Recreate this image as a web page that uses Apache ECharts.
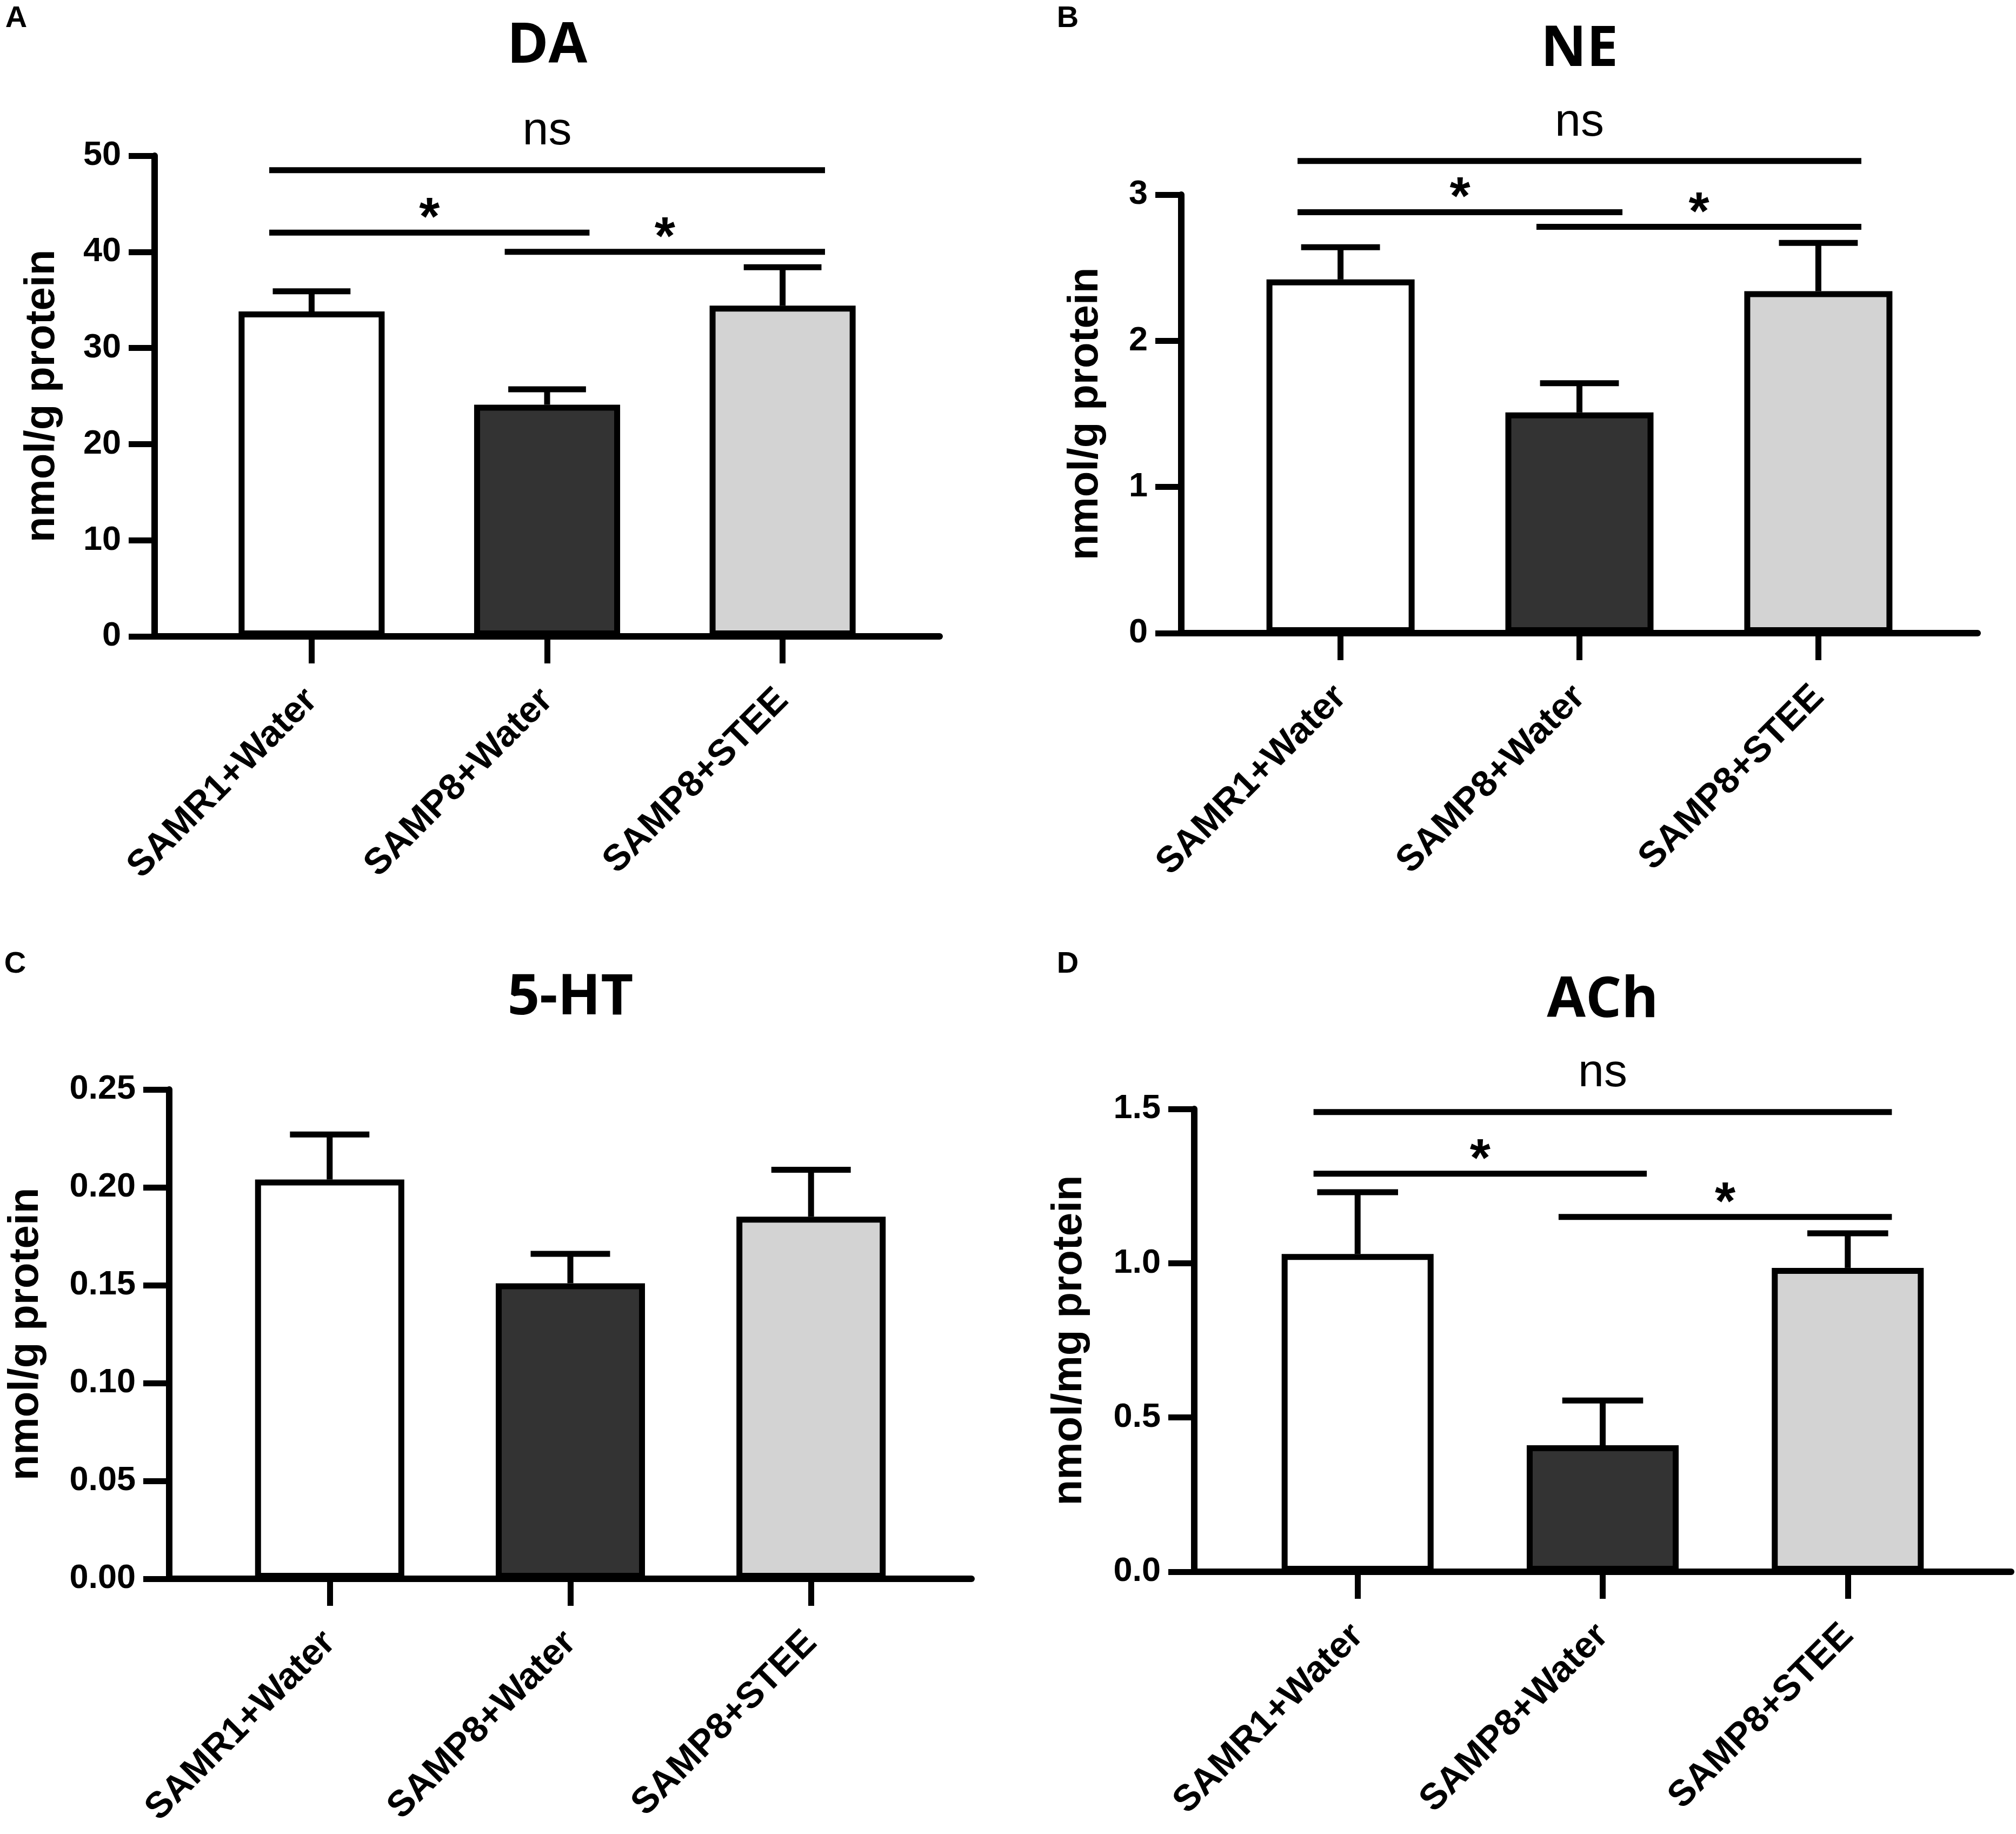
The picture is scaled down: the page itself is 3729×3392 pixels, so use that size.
<!DOCTYPE html>
<html><head><meta charset="utf-8">
<script src="https://cdn.jsdelivr.net/npm/echarts@6/dist/echarts.min.js"></script>
<style>html,body{margin:0;padding:0;background:#fff}#c{width:3729px;height:3392px}</style>
</head><body><div id="c"></div>
<script>
// ---- data ----
const categories = ['SAMR1+Water', 'SAMP8+Water', 'SAMP8+STEE'];
const barColors = ['#ffffff', '#333333', '#d3d3d3'];

const daMean = [33.8, 24.1, 34.4];
const daSem = [2.1, 1.6, 4.0];
const neMean = [2.42, 1.51, 2.34];
const neSem = [0.22, 0.20, 0.33];
const htMean = [0.204, 0.151, 0.185];
const htSem = [0.023, 0.015, 0.024];
const achMean = [1.03, 0.41, 0.985];
const achSem = [0.20, 0.145, 0.112];

// significance brackets: [fromIndex, toIndex, yValue, label]
const daSig = [[0, 2, 48.5, 'ns'], [0, 1, 42.0, '*'], [1, 2, 40.0, '*']];
const neSig = [[0, 2, 3.23, 'ns'], [0, 1, 2.88, '*'], [1, 2, 2.78, '*']];
const htSig = [];
const achSig = [[0, 2, 1.49, 'ns'], [0, 1, 1.29, '*'], [1, 2, 1.15, '*']];

// y axis ticks: [min, max, interval, decimals]
const daTicks = [0, 50, 10, 0];
const neTicks = [0, 3, 1, 0];
const htTicks = [0, 0.25, 0.05, 2];
const achTicks = [0, 1.5, 0.5, 1];

// ---- layout ----
const panels = [
  {letter: 'A', title: 'DA', yName: 'nmol/g protein', mean: daMean, sem: daSem, sig: daSig, ticks: daTicks,
   left: 286, top: 288, width: 1452, height: 889, nameGap: 169, titleY: 86, letterX: 30, letterY: 35},
  {letter: 'B', title: 'NE', yName: 'nmol/g protein', mean: neMean, sem: neSem, sig: neSig, ticks: neTicks,
   left: 2185, top: 360, width: 1473, height: 811, nameGap: 138, titleY: 92, letterX: 1975, letterY: 35},
  {letter: 'C', title: '5-HT', yName: 'nmol/g protein', mean: htMean, sem: htSem, sig: htSig, ticks: htTicks,
   left: 313, top: 2015, width: 1484, height: 905, nameGap: 226, titleY: 1846, letterX: 28, letterY: 1784},
  {letter: 'D', title: 'ACh', yName: 'nmol/mg protein', mean: achMean, sem: achSem, sig: achSig, ticks: achTicks,
   left: 2209, top: 2051, width: 1511, height: 856, nameGap: 192, titleY: 1851, letterX: 1975, letterY: 1784}
];

const FONT = 'Liberation Sans';
const grid = [], xAxis = [], yAxis = [], series = [], graphic = [];

panels.forEach((p, k) => {
  const fi = 2 * k, bi = 2 * k + 1;
  grid.push({left: p.left, top: p.top, width: p.width, height: p.height, containLabel: false});
  grid.push({left: p.left + 0.05 * p.width, top: p.top, width: 0.9 * p.width, height: p.height, containLabel: false});
  xAxis.push({gridIndex: fi, type: 'value', min: 0, max: 1,
    axisLine: {show: true, onZero: false, lineStyle: {color: '#000', width: 12}},
    axisTick: {show: false}, axisLabel: {show: false}, splitLine: {show: false}});
  xAxis.push({gridIndex: bi, type: 'category', data: categories,
    axisLine: {show: false}, splitLine: {show: false},
    axisTick: {show: true, alignWithLabel: true, length: 50, lineStyle: {color: '#000', width: 11}},
    axisLabel: {interval: 0, rotate: 45, margin: 108, fontSize: 68, fontWeight: 'bold', fontFamily: FONT, color: '#000'}});
  const [mn, mx, iv, dec] = p.ticks;
  yAxis.push({gridIndex: fi, type: 'value', min: mn, max: mx, interval: iv,
    axisLine: {show: true, onZero: false, lineStyle: {color: '#000', width: 12}},
    axisTick: {show: true, length: 48, lineStyle: {color: '#000', width: 11}},
    axisLabel: {margin: 62, fontSize: 63, fontWeight: 'bold', fontFamily: FONT, color: '#000',
      formatter: v => Number(v).toFixed(dec)},
    splitLine: {show: false},
    name: p.yName, nameLocation: 'middle', nameGap: p.nameGap,
    nameTextStyle: {fontSize: 78, fontWeight: 'bold', fontFamily: FONT, color: '#000'}});
  yAxis.push({gridIndex: bi, type: 'value', min: mn, max: mx, interval: iv, show: false});

  series.push({type: 'bar', xAxisIndex: bi, yAxisIndex: bi, barWidth: '62%', z: 3, silent: true,
    data: p.mean.map((v, i) => ({value: v, itemStyle: {color: barColors[i]}})),
    itemStyle: {borderColor: '#000', borderWidth: 11}});

  series.push({type: 'custom', xAxisIndex: bi, yAxisIndex: bi, z: 4, silent: true, clip: false,
    data: p.mean.map((m, i) => [i, m, m + p.sem[i]]),
    renderItem: (params, api) => {
      const x = api.value(0);
      const lo = api.coord([x, api.value(1)]);
      const hi = api.coord([x, api.value(2)]);
      const bw = api.size([1, 0])[0];
      const cap = bw * 0.165;
      return {type: 'group', children: [
        {type: 'line', shape: {x1: lo[0], y1: lo[1], x2: hi[0], y2: hi[1]}, style: {stroke: '#000', lineWidth: 11}},
        {type: 'line', shape: {x1: hi[0] - cap, y1: hi[1], x2: hi[0] + cap, y2: hi[1]}, style: {stroke: '#000', lineWidth: 11}}
      ]};
    }});

  if (p.sig.length) {
    series.push({type: 'custom', xAxisIndex: bi, yAxisIndex: bi, z: 5, silent: true, clip: false,
      data: p.sig.map(s => [s[0], s[1], s[2]]),
      renderItem: (params, api) => {
        const s = p.sig[params.dataIndex];
        const a = api.coord([s[0], s[2]]);
        const b = api.coord([s[1], s[2]]);
        const bw = api.size([1, 0])[0];
        const x1 = a[0] - 0.18 * bw, x2 = b[0] + 0.18 * bw;
        const isNs = s[3] === 'ns';
        return {type: 'group', children: [
          {type: 'line', shape: {x1: x1, y1: a[1], x2: x2, y2: a[1]}, style: {stroke: '#000', lineWidth: 11}},
          {type: 'text', style: {text: s[3], x: (x1 + x2) / 2, y: a[1] - (isNs ? 71 : 23),
            align: 'center', verticalAlign: 'middle', fill: '#000',
            fontSize: isNs ? 86 : 98, fontFamily: FONT, fontWeight: isNs ? 'normal' : 'bold'}}
        ]};
      }});
  }

  graphic.push({type: 'text', x: p.left + p.width / 2, y: p.titleY, silent: true,
    style: {text: p.title, align: 'center', verticalAlign: 'middle', fill: '#000',
      fontSize: 104, fontWeight: 'bold', fontFamily: 'Open Sans'}});
  graphic.push({type: 'text', x: p.letterX, y: p.letterY, silent: true,
    style: {text: p.letter, align: 'center', verticalAlign: 'middle', fill: '#000',
      fontSize: 56, fontWeight: 'bold', fontFamily: FONT}});
});

const chart = echarts.init(document.getElementById('c'), null, {renderer: 'canvas'});
chart.setOption({animation: false, backgroundColor: '#ffffff', grid, xAxis, yAxis, series, graphic});
</script>
</body></html>
